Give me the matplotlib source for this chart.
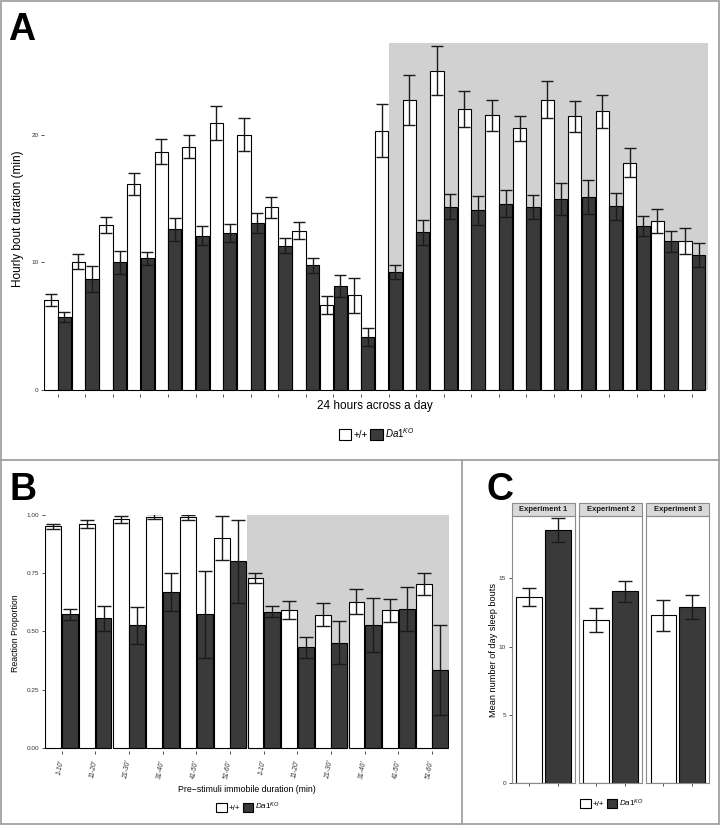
import numpy as np
import matplotlib
matplotlib.use('Agg')
import matplotlib.pyplot as plt
from matplotlib.patches import Rectangle, Patch
from matplotlib.lines import Line2D

plt.rcParams['font.family'] = ['Liberation Sans', 'DejaVu Sans']
plt.rcParams['mathtext.fontset'] = 'custom'
plt.rcParams['mathtext.it'] = 'Liberation Sans:italic'
plt.rcParams['mathtext.rm'] = 'Liberation Sans'

# ---------------- data ----------------
# Panel A: hourly bout duration across 24 h
hours = list(range(24))
a_wt = [7.06, 10.07, 12.92, 16.16, 18.69, 19.08, 20.92, 20.0, 14.33, 12.5, 6.67, 7.42,
        20.34, 22.75, 25.02, 22.01, 21.52, 20.5, 22.75, 21.44, 21.86, 17.83, 13.25, 11.66]
a_wt_se = [0.46, 0.6, 0.64, 0.88, 0.98, 0.9, 1.33, 1.3, 0.81, 0.7, 0.72, 1.37,
           2.07, 1.95, 1.93, 1.41, 1.19, 1.0, 1.44, 1.25, 1.29, 1.13, 0.95, 1.0]
a_ko = [5.70, 8.71, 10.01, 10.33, 12.6, 12.1, 12.31, 13.1, 11.29, 9.78, 8.16, 4.18,
        9.23, 12.37, 14.35, 14.07, 14.61, 14.33, 14.98, 15.11, 14.4, 12.84, 11.66, 10.56]
a_ko_se = [0.38, 1.0, 0.92, 0.52, 0.9, 0.74, 0.74, 0.8, 0.59, 0.6, 0.84, 0.7,
           0.53, 0.97, 0.98, 1.12, 1.07, 0.95, 1.28, 1.32, 1.08, 0.77, 0.82, 0.93]
a_dark_start = 12   # night phase begins (shaded)

# Panel B: reaction proportion vs pre-stimuli immobile duration
b_labels = ["1-10'", "11-20'", "21-30'", "31-40'", "41-50'", "51-60'"] * 2
b_wt = [0.950, 0.959, 0.981, 0.991, 0.989, 0.900, 0.728, 0.591, 0.571, 0.628, 0.591, 0.705]
b_wt_se = [0.012, 0.017, 0.015, 0.010, 0.010, 0.094, 0.021, 0.038, 0.049, 0.052, 0.049, 0.047]
b_ko = [0.573, 0.556, 0.526, 0.668, 0.573, 0.800, 0.585, 0.432, 0.451, 0.528, 0.595, 0.334]
b_ko_se = [0.024, 0.054, 0.079, 0.082, 0.188, 0.179, 0.024, 0.045, 0.092, 0.114, 0.095, 0.193]
b_dark_start = 5.5

# Panel C: mean number of day sleep bouts per experiment
c_experiments = ['Experiment 1', 'Experiment 2', 'Experiment 3']
c_wt = [13.6, 11.94, 12.28]
c_wt_se = [0.66, 0.87, 1.12]
c_ko = [18.52, 14.03, 12.87]
c_ko_se = [0.85, 0.76, 0.88]

# ---------------- style ----------------
W, H = 721, 825
fig = plt.figure(figsize=(7.21, 8.25), dpi=100)

def fx(px):
    return px / W

def fy(py):
    return 1 - py / H

def box(l, t, r, b):
    return [fx(l), fy(b), (r - l) / W, (b - t) / H]

DARK = '#3a3a3a'
SHADE = '#d1d1d1'
TICKC = '#333333'
FRAME = '#9a9a9a'
ko_label = r'$\mathit{Da1}^{\mathit{KO}}$'

def style_ticks(ax, size=4.6):
    ax.tick_params(axis='both', length=2.5, width=0.6, colors=TICKC,
                   labelsize=size, pad=1.5)
    for s in ax.spines.values():
        s.set_visible(False)

def legend_at(cx, cy, fs, hl):
    fig.legend(handles=[Patch(fc='white', ec='black', lw=0.8),
                        Patch(fc=DARK, ec='black', lw=0.8)],
               labels=['+/+', ko_label], loc='center',
               bbox_to_anchor=(fx(cx), fy(cy)), ncol=2, frameon=False,
               fontsize=fs, handlelength=hl, handleheight=hl,
               handletextpad=0.25, columnspacing=0.3, borderpad=0,
               borderaxespad=0)

ekw = dict(elinewidth=1.0, capthick=1.0, ecolor='#1a1a1a')

# ---------------- Panel A ----------------
axA = fig.add_axes(box(43.9, 43, 708.3, 393.8))
x = np.array(hours)
axA.add_patch(Rectangle((a_dark_start, 0), 23.6 - a_dark_start, 27.2,
                        color=SHADE, lw=0, zorder=0))
axA.bar(x - 0.245, a_wt, width=0.48, color='white', edgecolor='black', lw=0.8,
        yerr=a_wt_se, capsize=4.5, error_kw=ekw, zorder=2)
axA.bar(x + 0.245, a_ko, width=0.48, color=DARK, edgecolor='black', lw=0.8,
        yerr=a_ko_se, capsize=4.5, error_kw=ekw, zorder=2)
axA.set_xlim(-0.5, 23.6)
axA.set_ylim(-0.3, 27.2)
axA.set_yticks([0, 10, 20])
axA.set_xticks(x)
axA.set_xticklabels([])
style_ticks(axA)
axA.set_ylabel('Hourly bout duration (min)', fontsize=8.5)
axA.yaxis.set_label_coords((24 - 43.9) / (708.3 - 43.9), 0.5)
fig.text(fx(375), fy(406), '24 hours across a day', fontsize=8.5,
         ha='center', va='center')
legend_at(376.7, 433, 7, 1.25)
fig.text(fx(8), fy(40), 'A', fontsize=27, weight='bold', ha='left', va='baseline')

# ---------------- Panel B ----------------
axB = fig.add_axes(box(44.8, 514.7, 448.9, 751.1))
xb = np.arange(len(b_labels))
axB.add_patch(Rectangle((b_dark_start, 0), 11.5 - b_dark_start, 1.0,
                        color=SHADE, lw=0, zorder=0))
axB.bar(xb - 0.245, b_wt, width=0.47, color='white', edgecolor='black', lw=0.8,
        yerr=b_wt_se, capsize=5, error_kw=ekw, zorder=2)
axB.bar(xb + 0.245, b_ko, width=0.47, color=DARK, edgecolor='black', lw=0.8,
        yerr=b_ko_se, capsize=5, error_kw=ekw, zorder=2)
axB.set_xlim(-0.5, 11.5)
axB.set_ylim(-0.012, 1.0)
axB.set_yticks([0, 0.25, 0.5, 0.75, 1.0])
axB.set_yticklabels(['0.00', '0.25', '0.50', '0.75', '1.00'])
axB.set_xticks(xb)
axB.set_xticklabels(b_labels, rotation=80, ha='right', va='center',
                    rotation_mode='anchor', style='italic')
style_ticks(axB)
axB.tick_params(axis='x', pad=4, labelsize=4.9)
axB.set_ylabel('Reaction Proportion', fontsize=6.3)
axB.yaxis.set_label_coords((20.5 - 44.8) / (448.9 - 44.8), 0.5)
fig.text(fx(246.5), fy(790), 'Pre\u2212stimuli immobile duration (min)',
         fontsize=6.3, ha='center', va='center')
legend_at(248, 806.7, 5.8, 1.35)
fig.text(fx(9), fy(500), 'B', fontsize=27, weight='bold', ha='left', va='baseline')

# ---------------- Panel C ----------------
facets = [(511.7, 575.0), (579.0, 642.3), (646.3, 709.3)]
strip_h = 12.7
for i, (l, r) in enumerate(facets):
    ax = fig.add_axes(box(l, 516, r, 783.3))
    ax.bar([0, 1], [c_wt[i], c_ko[i]], width=0.9, color=['white', DARK],
           edgecolor='black', lw=0.8, yerr=[c_wt_se[i], c_ko_se[i]],
           capsize=5.3, error_kw=ekw, zorder=2)
    ax.set_xlim(-0.6, 1.6)
    ax.set_ylim(0, 19.54)
    ax.set_xticks([0, 1])
    ax.set_xticklabels([])
    style_ticks(ax)
    for s in ax.spines.values():
        s.set_visible(True)
        s.set_color('#8c8c8c')
        s.set_linewidth(0.8)
    if i == 0:
        ax.set_yticks([0, 5, 10, 15])
        ax.set_ylabel('Mean number of day sleep bouts', fontsize=6.6)
        ax.yaxis.set_label_coords((497.5 - l) / (r - l), 0.5)
    else:
        ax.set_yticks([])
    sh = strip_h / (783.3 - 516)
    ax.add_patch(Rectangle((0, 1), 1, sh, transform=ax.transAxes, clip_on=False,
                           fc='#d9d9d9', ec='#8c8c8c', lw=0.8))
    ax.text(0.5, 1 + sh / 2, c_experiments[i], transform=ax.transAxes,
            ha='center', va='center', fontsize=5.5, weight='bold', color='#1a1a1a')
legend_at(612, 803.3, 5.8, 1.35)
fig.text(fx(486), fy(500), 'C', fontsize=27, weight='bold', ha='left', va='baseline')

# ---------------- frame lines ----------------
fig.add_artist(Rectangle((fx(1), fy(823.5)), fx(718), (822.5) / H, transform=fig.transFigure,
                         fill=False, ec=FRAME, lw=1.2))
fig.add_artist(Line2D([fx(1), fx(719)], [fy(460), fy(460)], color=FRAME, lw=1.2))
fig.add_artist(Line2D([fx(462.3), fx(462.3)], [fy(460), fy(823.5)], color=FRAME, lw=1.2))

fig.savefig('out.png', dpi=100, facecolor='white')
